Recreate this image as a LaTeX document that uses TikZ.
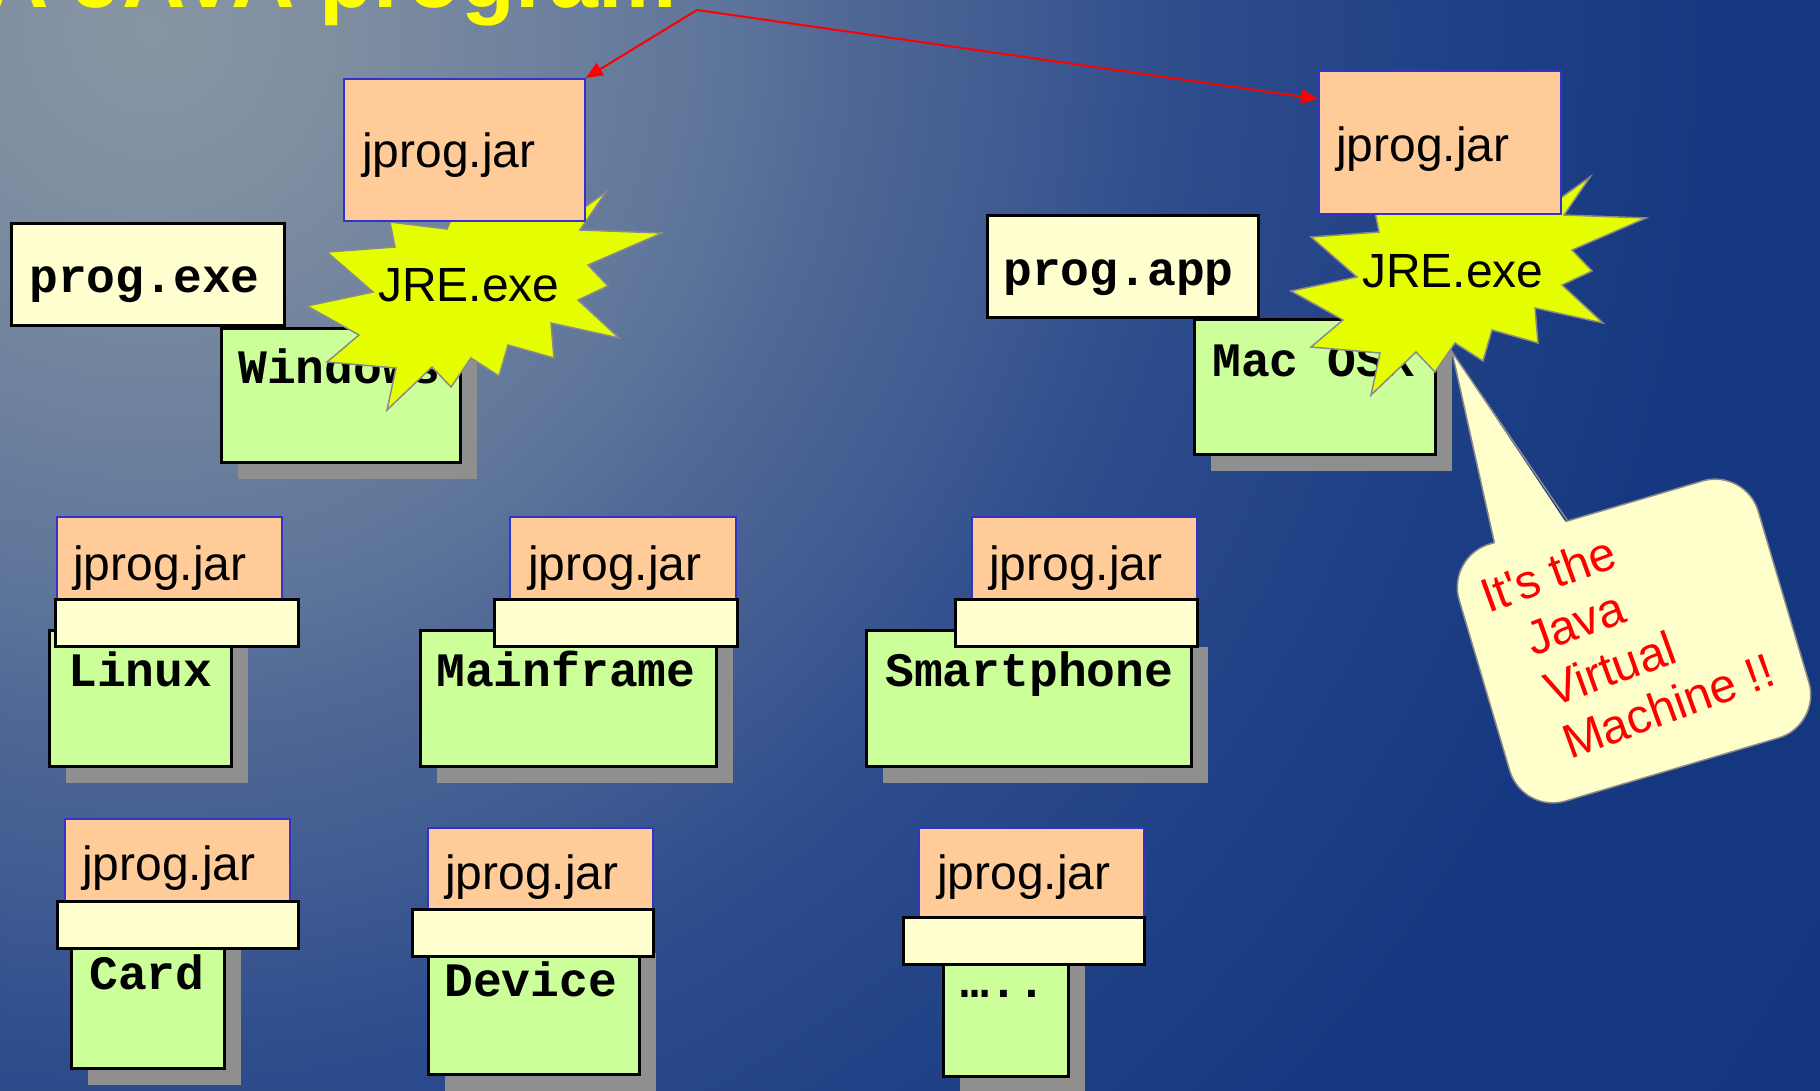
\documentclass[tikz,border=0pt]{standalone}
\usepackage{fontspec}
\setmainfont{Liberation Sans}
\newfontfamily\courfont{Liberation Mono}
\usetikzlibrary{calc,shadows,arrows.meta}
\definecolor{jar}{HTML}{FFCC99}
\definecolor{jarborder}{HTML}{3333CC}
\definecolor{pale}{HTML}{FFFFD0}
\definecolor{osgreen}{HTML}{CCFF99}
\definecolor{shadowgrey}{HTML}{8F8F8F}
\definecolor{staryellow}{HTML}{E6FF00}
\definecolor{stargrey}{HTML}{8A8A8A}
\definecolor{callfill}{HTML}{FFFFCC}
\definecolor{titleyellow}{HTML}{FFFF00}
\definecolor{bgc0}{RGB}{136,149,164}
\definecolor{bgc1}{RGB}{126,141,160}
\definecolor{bgc2}{RGB}{95,118,155}
\definecolor{bgc3}{RGB}{82,105,150}
\definecolor{bgc4}{RGB}{62,90,145}
\definecolor{bgc5}{RGB}{45,76,140}
\definecolor{bgc6}{RGB}{33,66,134}
\definecolor{bgc7}{RGB}{22,56,128}
\definecolor{bgc8}{RGB}{20,54,126}
\pgfdeclareradialshading{bgshade}{\pgfpoint{0bp}{0bp}}{%
  color(0bp)=(bgc0); color(2.5bp)=(bgc1); color(7bp)=(bgc2); color(8.5bp)=(bgc3);
  color(11bp)=(bgc4); color(13bp)=(bgc5); color(16bp)=(bgc6); color(19.5bp)=(bgc7);
  color(25bp)=(bgc8); color(50bp)=(bgc8)}
\tikzset{
  greenbox/.style={rectangle, draw=black, line width=3pt, fill=osgreen, inner sep=0pt, anchor=north west,
    drop shadow={shadow xshift=16pt, shadow yshift=-16pt, fill=shadowgrey, opacity=1}},
  palebox/.style={rectangle, draw=black, line width=3pt, fill=pale, inner sep=0pt, anchor=north west},
  jarbox/.style={rectangle, draw=jarborder, line width=1.8pt, fill=jar, inner sep=0pt, anchor=north west},
  sanstext/.style={font=\fontsize{48}{48}\selectfont, inner sep=0pt, anchor=base west, text=black},
  monotext/.style={font=\courfont\bfseries\fontsize{48}{48}\selectfont, inner sep=0pt, anchor=base west, text=black},
  calltext/.style={font=\fontsize{48}{48}\selectfont, inner sep=0pt, anchor=base west, text=red, transform shape},
  starstyle/.style={fill=staryellow, draw=stargrey, line width=1.5pt},
  bubbleline/.style={draw=stargrey, line width=1.5pt},
  redarrow/.style={draw=red, line width=2pt, -{Triangle[length=17pt,width=14pt]}},
  jrestar/.pic={
    \draw[starstyle] (606,192) -- (580,230) -- (662,233) -- (588,265) -- (608,286) -- (578,300)
      -- (619,338) -- (551,323) -- (554,358) -- (508,345) -- (499,376) -- (471,358)
      -- (451,387) -- (432,367) -- (387,410) -- (396,368) -- (327,362) -- (359,335)
      -- (307,306) -- (373,292) -- (327,252) -- (395,247) -- (390,222) -- (447,229)
      -- (460,200) -- (578,212) -- cycle;
  }
}
\begin{document}
\begin{tikzpicture}[x=1pt, y=-1pt]
\useasboundingbox (0,0) rectangle (1820,1090);
\clip (0,0) rectangle (1820,1090);
\shade[shading=bgshade] (150,30) circle (2000);

% title
\node[font=\bfseries\fontsize{88}{88}\selectfont, text=titleyellow, anchor=base east, inner sep=0pt] (title) at (677,7) {A JAVA program};

% Windows group
\node[greenbox, minimum width=239pt, minimum height=134pt] (win) at (220,327) {};
\node[monotext] (wint) at ($(win.north west)+(18,56)$) {Windows};
\node[palebox, minimum width=273pt, minimum height=102pt] (exe) at (10,222) {};
\node[monotext] (exet) at ($(exe.north west)+(19,70)$) {prog.exe};

% Mac group
\node[greenbox, minimum width=241pt, minimum height=135pt] (mac) at (1193,318) {};
\node[monotext] (mact) at ($(mac.north west)+(19,58)$) {Mac OSX};
\node[palebox, minimum width=271pt, minimum height=102pt] (app) at (986,214) {};
\node[monotext] (appt) at ($(app.north west)+(17,71)$) {prog.app};

% callout
\node[rectangle, rounded corners=45pt, fill=callfill, bubbleline, minimum width=312pt, minimum height=268pt, rotate=16.5] (bubble) at (1634,641) {};
\coordinate (ptip) at (1452,352);
\coordinate (b1) at ($(bubble.north west)!0.162!(bubble.north east)$);
\coordinate (b1s) at ($(bubble.south west)!0.162!(bubble.south east)$);
\coordinate (b1in) at ($(b1)!0.03!(b1s)$);
\coordinate (b2) at ($(bubble.north west)!0.405!(bubble.north east)$);
\coordinate (b2s) at ($(bubble.south west)!0.405!(bubble.south east)$);
\coordinate (b2in) at ($(b2)!0.03!(b2s)$);
\fill[callfill] (b1in) -- (ptip) -- (b2in) -- cycle;
\draw[bubbleline] (b1) -- (ptip) -- (b2);
\begin{scope}[shift={(1488,614)}, rotate=20]
  \node[calltext] (c1) at (0,0) {It\textquotesingle s the};
  \node[calltext] (c2) at (28,55) {Java};
  \node[calltext] (c3) at (28,110) {Virtual};
  \node[calltext] (c4) at (27,165) {Machine !!};
\end{scope}

% stars
\pic (wstar) at (0,0) {jrestar};
\pic (mstar) at (984,-15) {jrestar};
\node[sanstext] (wjre) at (378,301) {JRE.exe};
\node[sanstext] (mjre) at (1362,287) {JRE.exe};

% top jar boxes
\node[jarbox, minimum width=241pt, minimum height=142pt] (wjar) at (343,78) {};
\node[sanstext] (wjart) at ($(wjar.north west)+(19,89)$) {jprog.jar};
\node[jarbox, minimum width=242pt, minimum height=143pt] (mjar) at (1318,70) {};
\node[sanstext] (mjart) at ($(mjar.north west)+(18,91)$) {jprog.jar};

% red arrows
\coordinate (apex) at (697,10);
\draw[redarrow] (apex) -- (wjar.north east);
\draw[redarrow] (apex) -- ($(mjar.north west)!0.2!(mjar.south west)$);

% Row 2
\node[greenbox, minimum width=182pt, minimum height=136pt] (lin) at (48,629) {};
\node[jarbox, minimum width=225pt, minimum height=82pt] (linjar) at (56,516) {};
\node[palebox, minimum width=243pt, minimum height=47pt] (linp) at (54,598) {};
\node[sanstext] (linjart) at (73,580) {jprog.jar};
\node[monotext] (lint) at (68,686) {Linux};

\node[greenbox, minimum width=296pt, minimum height=136pt] (mf) at (419,629) {};
\node[jarbox, minimum width=226pt, minimum height=82pt] (mfjar) at (509,516) {};
\node[palebox, minimum width=243pt, minimum height=47pt] (mfp) at (493,598) {};
\node[sanstext] (mfjart) at (528,580) {jprog.jar};
\node[monotext] (mft) at (436,686) {Mainframe};

\node[greenbox, minimum width=325pt, minimum height=136pt] (sp) at (865,629) {};
\node[jarbox, minimum width=225pt, minimum height=82pt] (spjar) at (971,516) {};
\node[palebox, minimum width=242pt, minimum height=47pt] (spp) at (954,598) {};
\node[sanstext] (spjart) at (989,580) {jprog.jar};
\node[monotext] (spt) at (885,686) {Smartphone};

% Row 3
\node[greenbox, minimum width=153pt, minimum height=137pt] (card) at (70,930) {};
\node[jarbox, minimum width=225pt, minimum height=82pt] (cardjar) at (64,818) {};
\node[palebox, minimum width=241pt, minimum height=47pt] (cardp) at (56,900) {};
\node[sanstext] (cardjart) at (82,880) {jprog.jar};
\node[monotext] (cardt) at (89,989) {Card};

\node[greenbox, minimum width=211pt, minimum height=138pt] (dev) at (427,935) {};
\node[jarbox, minimum width=225pt, minimum height=81pt] (devjar) at (427,827) {};
\node[palebox, minimum width=241pt, minimum height=47pt] (devp) at (411,908) {};
\node[sanstext] (devjart) at (445,889) {jprog.jar};
\node[monotext] (devt) at (444,996) {Device};

\node[greenbox, minimum width=125pt, minimum height=130pt] (etc) at (942,945) {};
\node[jarbox, minimum width=225pt, minimum height=89pt] (etcjar) at (918,827) {};
\node[palebox, minimum width=241pt, minimum height=47pt] (etcp) at (902,916) {};
\node[sanstext] (etcjart) at (937,889) {jprog.jar};
\node[monotext] (etct) at (960,997) {…..};
\end{tikzpicture}
\end{document}
